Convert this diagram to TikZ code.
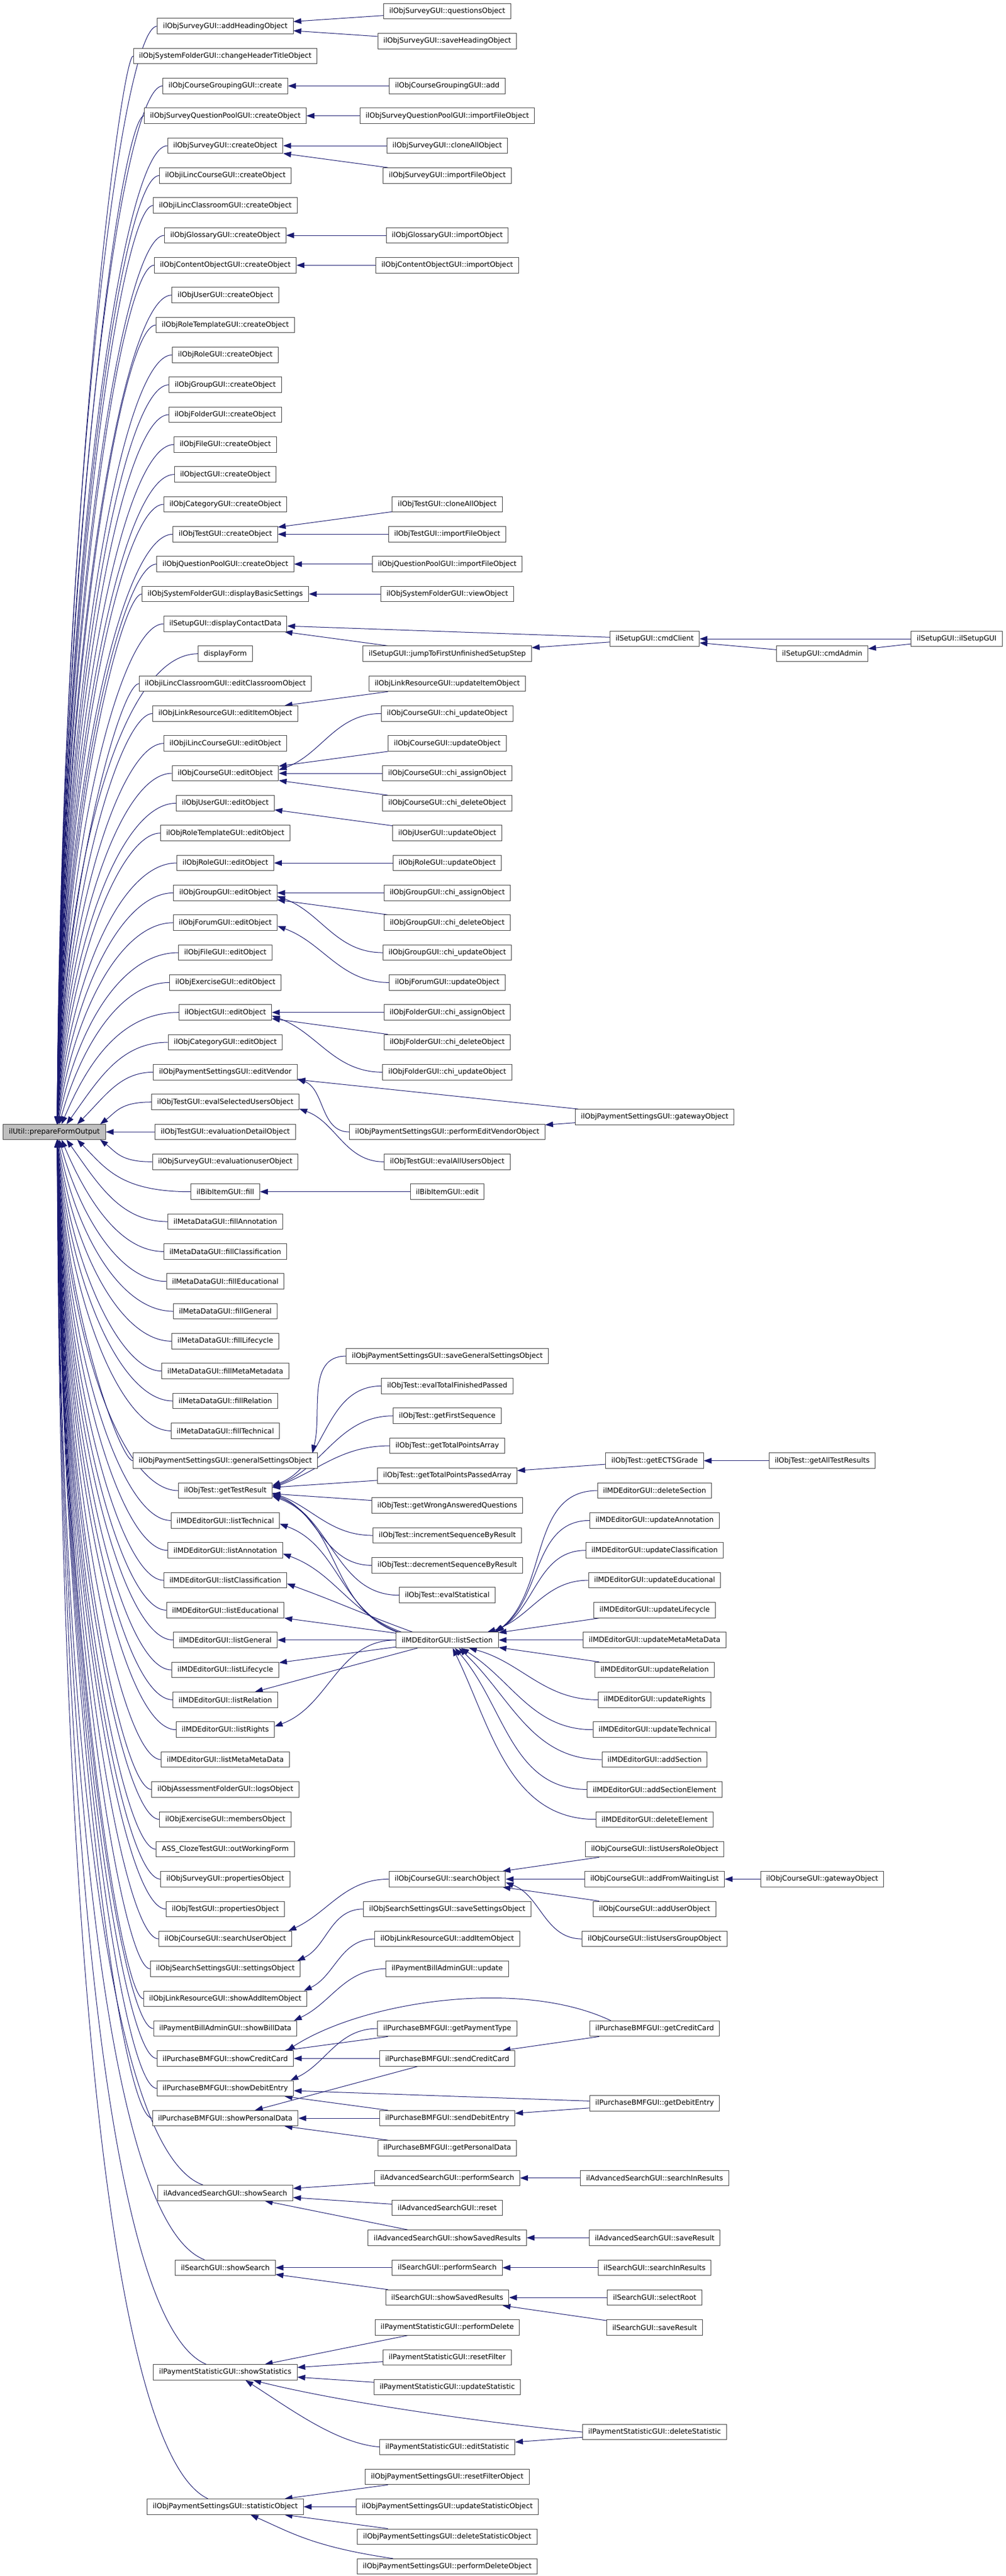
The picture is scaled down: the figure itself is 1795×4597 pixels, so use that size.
\documentclass[tikz,border=0pt]{standalone}
\usepackage{fontspec}
\setmainfont{DejaVu Sans}
\usetikzlibrary{arrows.meta}
\usetikzlibrary{calc}
\pgfdeclarelayer{edges}
\pgfsetlayers{edges,main}

\definecolor{callblue}{RGB}{25,25,112}

\begin{document}
\begin{tikzpicture}[x=1pt, y=1pt,
  fn/.style={draw=black!75, line width=1pt, fill=white, minimum height=27.5pt,
             inner xsep=10pt, inner ysep=0pt, font=\fontsize{12.68}{15}\selectfont},
  call/.style={draw=callblue, line width=1pt, -{Triangle[length=14pt,width=10pt]}}]

 \useasboundingbox (0,0) rectangle (1795,-4597);

 %level 1
 \node[fn, fill=black!25] (ilutil) at (97,-2020) {ilUtil::prepareFormOutput};

 %level 2, one row every 53.33, each one calls ilUtil::prepareFormOutput
 \foreach \g/\name/\txt in {1/survAddHead/ilObjSurveyGUI::addHeadingObject,
   3/sysfChangeHeader/ilObjSystemFolderGUI::changeHeaderTitleObject,
   5/crsgCreate/ilObjCourseGroupingGUI::create,
   7/sqpCreate/ilObjSurveyQuestionPoolGUI::createObject,
   9/survCreate/ilObjSurveyGUI::createObject,
   11/lincCrsCreate/ilObjiLincCourseGUI::createObject,
   13/lincClsCreate/ilObjiLincClassroomGUI::createObject,
   15/gloCreate/ilObjGlossaryGUI::createObject,
   17/lmCreate/ilObjContentObjectGUI::createObject,
   19/usrCreate/ilObjUserGUI::createObject,
   21/rolTCreate/ilObjRoleTemplateGUI::createObject,
   23/rolCreate/ilObjRoleGUI::createObject,
   25/grpCreate/ilObjGroupGUI::createObject,
   27/fldCreate/ilObjFolderGUI::createObject,
   29/fileCreate/ilObjFileGUI::createObject,
   31/objCreate/ilObjectGUI::createObject,
   33/catCreate/ilObjCategoryGUI::createObject,
   35/tstCreate/ilObjTestGUI::createObject,
   37/qplCreate/ilObjQuestionPoolGUI::createObject,
   39/sysfBasic/ilObjSystemFolderGUI::displayBasicSettings,
   41/setupContact/ilSetupGUI::displayContactData,
   43/dispForm/displayForm,
   45/lincClsEdit/ilObjiLincClassroomGUI::editClassroomObject,
   47/webrEditItem/ilObjLinkResourceGUI::editItemObject,
   49/lincCrsEdit/ilObjiLincCourseGUI::editObject,
   51/crsEdit/ilObjCourseGUI::editObject,
   53/usrEdit/ilObjUserGUI::editObject,
   55/rolTEdit/ilObjRoleTemplateGUI::editObject,
   57/rolEdit/ilObjRoleGUI::editObject,
   59/grpEdit/ilObjGroupGUI::editObject,
   61/frmEdit/ilObjForumGUI::editObject,
   63/fileEdit/ilObjFileGUI::editObject,
   65/excEdit/ilObjExerciseGUI::editObject,
   67/objEdit/ilObjectGUI::editObject,
   69/catEdit/ilObjCategoryGUI::editObject,
   71/payEditVendor/ilObjPaymentSettingsGUI::editVendor,
   73/tstEvalSel/ilObjTestGUI::evalSelectedUsersObject,
   75/tstEvalDetail/ilObjTestGUI::evaluationDetailObject,
   77/survEvalUser/ilObjSurveyGUI::evaluationuserObject,
   79/bibFill/ilBibItemGUI::fill,
   81/mdFillAnno/ilMetaDataGUI::fillAnnotation,
   83/mdFillClass/ilMetaDataGUI::fillClassification,
   85/mdFillEdu/ilMetaDataGUI::fillEducational,
   87/mdFillGen/ilMetaDataGUI::fillGeneral,
   89/mdFillLife/ilMetaDataGUI::fillLifecycle,
   91/mdFillMeta/ilMetaDataGUI::fillMetaMetadata,
   93/mdFillRel/ilMetaDataGUI::fillRelation,
   95/mdFillTech/ilMetaDataGUI::fillTechnical,
   97/payGeneral/ilObjPaymentSettingsGUI::generalSettingsObject,
   99/tstResult/ilObjTest::getTestResult,
   101/mdeTech/ilMDEditorGUI::listTechnical,
   103/mdeAnno/ilMDEditorGUI::listAnnotation,
   105/mdeClass/ilMDEditorGUI::listClassification,
   107/mdeEdu/ilMDEditorGUI::listEducational,
   109/mdeGen/ilMDEditorGUI::listGeneral,
   111/mdeLife/ilMDEditorGUI::listLifecycle,
   113/mdeRel/ilMDEditorGUI::listRelation,
   115/mdeRights/ilMDEditorGUI::listRights,
   117/mdeMeta/ilMDEditorGUI::listMetaMetaData,
   119/assfLogs/ilObjAssessmentFolderGUI::logsObject,
   121/excMembers/ilObjExerciseGUI::membersObject,
   123/clozeOut/ASS\_ClozeTestGUI::outWorkingForm,
   125/survProps/ilObjSurveyGUI::propertiesObject,
   127/tstProps/ilObjTestGUI::propertiesObject,
   129/crsSearchUser/ilObjCourseGUI::searchUserObject,
   131/seasSettings/ilObjSearchSettingsGUI::settingsObject,
   133/webrShowAdd/ilObjLinkResourceGUI::showAddItemObject,
   135/billShow/ilPaymentBillAdminGUI::showBillData,
   137/bmfShowCC/ilPurchaseBMFGUI::showCreditCard,
   139/bmfShowDebit/ilPurchaseBMFGUI::showDebitEntry,
   141/bmfShowPers/ilPurchaseBMFGUI::showPersonalData,
   146/advShowSearch/ilAdvancedSearchGUI::showSearch,
   151/srchShowSearch/ilSearchGUI::showSearch,
   158/statShow/ilPaymentStatisticGUI::showStatistics,
   167/payStatistic/ilObjPaymentSettingsGUI::statisticObject} {
   \node[fn] (\name) at (402,{-20-26.667*\g}) {\txt};
   \begin{pgfonlayer}{edges}
   \ifnum\g=75
     \draw[call] (\name) -- (ilutil);
   \else
     \pgfmathsetmacro{\yn}{-20-26.667*\g}
     \pgfmathsetmacro{\dist}{abs(\yn+2020)}
     \pgfmathsetmacro{\side}{(\g<75) ? 1 : -1}
     \pgfmathsetmacro{\xl}{102+77*exp(max(-12,-(\dist-53)/70))}
     \pgfmathsetmacro{\yl}{-2020+13.75*\side}
     \pgfmathsetmacro{\xr}{\xl+(230-\xl)*min(1,150/\dist)}
     \pgfmathsetmacro{\cx}{\xl+0.55*(\xr-\xl)}
     \pgfmathsetmacro{\cy}{\yl+0.55*(\yn-\yl)}
     \pgfmathsetmacro{\ax}{(\g>141) ? 190 : 215}
     \pgfmathsetmacro{\ay}{(\g>141) ? \yn+0.04*\dist : \yn}
     \draw[call] (\name) .. controls (\ax,\ay) and (\cx,\cy) .. (\xl,\yl);
   \fi
   \end{pgfonlayer}
 }

 %level 3
 \foreach \g/\name/\txt in {0/survQuestions/ilObjSurveyGUI::questionsObject,
   2/survSaveHead/ilObjSurveyGUI::saveHeadingObject,
   5/crsgAdd/ilObjCourseGroupingGUI::add,
   7/sqpImport/ilObjSurveyQuestionPoolGUI::importFileObject,
   9/survClone/ilObjSurveyGUI::cloneAllObject,
   11/survImport/ilObjSurveyGUI::importFileObject,
   15/gloImport/ilObjGlossaryGUI::importObject,
   17/lmImport/ilObjContentObjectGUI::importObject,
   33/tstClone/ilObjTestGUI::cloneAllObject,
   35/tstImport/ilObjTestGUI::importFileObject,
   37/qplImport/ilObjQuestionPoolGUI::importFileObject,
   39/sysfView/ilObjSystemFolderGUI::viewObject,
   43/setupJump/ilSetupGUI::jumpToFirstUnfinishedSetupStep,
   45/webrUpdItem/ilObjLinkResourceGUI::updateItemObject,
   47/crsChiUpd/ilObjCourseGUI::chi\_updateObject,
   49/crsUpd/ilObjCourseGUI::updateObject,
   51/crsChiAssign/ilObjCourseGUI::chi\_assignObject,
   53/crsChiDel/ilObjCourseGUI::chi\_deleteObject,
   55/usrUpd/ilObjUserGUI::updateObject,
   57/rolUpd/ilObjRoleGUI::updateObject,
   59/grpChiAssign/ilObjGroupGUI::chi\_assignObject,
   61/grpChiDel/ilObjGroupGUI::chi\_deleteObject,
   63/grpChiUpd/ilObjGroupGUI::chi\_updateObject,
   65/frmUpd/ilObjForumGUI::updateObject,
   67/fldChiAssign/ilObjFolderGUI::chi\_assignObject,
   69/fldChiDel/ilObjFolderGUI::chi\_deleteObject,
   71/fldChiUpd/ilObjFolderGUI::chi\_updateObject,
   75/payPerformEdit/ilObjPaymentSettingsGUI::performEditVendorObject,
   77/tstEvalAll/ilObjTestGUI::evalAllUsersObject,
   79/bibEdit/ilBibItemGUI::edit,
   90/paySaveGeneral/ilObjPaymentSettingsGUI::saveGeneralSettingsObject,
   92/tstEvalTotal/ilObjTest::evalTotalFinishedPassed,
   94/tstFirstSeq/ilObjTest::getFirstSequence,
   96/tstPoints/ilObjTest::getTotalPointsArray,
   98/tstPointsPassed/ilObjTest::getTotalPointsPassedArray,
   100/tstWrong/ilObjTest::getWrongAnsweredQuestions,
   102/tstIncSeq/ilObjTest::incrementSequenceByResult,
   104/tstDecSeq/ilObjTest::decrementSequenceByResult,
   106/tstEvalStat/ilObjTest::evalStatistical,
   109/mdeSection/ilMDEditorGUI::listSection,
   125/crsSearch/ilObjCourseGUI::searchObject,
   127/seasSave/ilObjSearchSettingsGUI::saveSettingsObject,
   129/webrAddItem/ilObjLinkResourceGUI::addItemObject,
   131/billUpd/ilPaymentBillAdminGUI::update,
   135/bmfPayType/ilPurchaseBMFGUI::getPaymentType,
   137/bmfSendCC/ilPurchaseBMFGUI::sendCreditCard,
   141/bmfSendDebit/ilPurchaseBMFGUI::sendDebitEntry,
   143/bmfGetPers/ilPurchaseBMFGUI::getPersonalData,
   145/advPerform/ilAdvancedSearchGUI::performSearch,
   147/advReset/ilAdvancedSearchGUI::reset,
   149/advSaved/ilAdvancedSearchGUI::showSavedResults,
   151/srchPerform/ilSearchGUI::performSearch,
   153/srchSaved/ilSearchGUI::showSavedResults,
   155/statPerfDel/ilPaymentStatisticGUI::performDelete,
   157/statReset/ilPaymentStatisticGUI::resetFilter,
   159/statUpd/ilPaymentStatisticGUI::updateStatistic,
   163/statEdit/ilPaymentStatisticGUI::editStatistic,
   165/payResetFilter/ilObjPaymentSettingsGUI::resetFilterObject,
   167/payUpdStat/ilObjPaymentSettingsGUI::updateStatisticObject,
   169/payDelStat/ilObjPaymentSettingsGUI::deleteStatisticObject,
   171/payPerfDel/ilObjPaymentSettingsGUI::performDeleteObject} {
   \node[fn] (\name) at (798,{-20-26.667*\g}) {\txt};
 }

 %level 4
 \foreach \g/\name/\txt in {42/setupCmdClient/ilSetupGUI::cmdClient,
   74/payGateway/ilObjPaymentSettingsGUI::gatewayObject,
   97/tstECTS/ilObjTest::getECTSGrade,
   99/mdeDelSec/ilMDEditorGUI::deleteSection,
   101/mdeUpdAnno/ilMDEditorGUI::updateAnnotation,
   103/mdeUpdClass/ilMDEditorGUI::updateClassification,
   105/mdeUpdEdu/ilMDEditorGUI::updateEducational,
   107/mdeUpdLife/ilMDEditorGUI::updateLifecycle,
   109/mdeUpdMeta/ilMDEditorGUI::updateMetaMetaData,
   111/mdeUpdRel/ilMDEditorGUI::updateRelation,
   113/mdeUpdRights/ilMDEditorGUI::updateRights,
   115/mdeUpdTech/ilMDEditorGUI::updateTechnical,
   117/mdeAddSec/ilMDEditorGUI::addSection,
   119/mdeAddSecEl/ilMDEditorGUI::addSectionElement,
   121/mdeDelEl/ilMDEditorGUI::deleteElement,
   123/crsListRole/ilObjCourseGUI::listUsersRoleObject,
   125/crsAddWait/ilObjCourseGUI::addFromWaitingList,
   127/crsAddUser/ilObjCourseGUI::addUserObject,
   129/crsListGroup/ilObjCourseGUI::listUsersGroupObject,
   135/bmfGetCC/ilPurchaseBMFGUI::getCreditCard,
   140/bmfGetDebit/ilPurchaseBMFGUI::getDebitEntry,
   145/advSearchIn/ilAdvancedSearchGUI::searchInResults,
   149/advSaveRes/ilAdvancedSearchGUI::saveResult,
   151/srchSearchIn/ilSearchGUI::searchInResults,
   153/srchSelectRoot/ilSearchGUI::selectRoot,
   155/srchSaveRes/ilSearchGUI::saveResult,
   162/statDel/ilPaymentStatisticGUI::deleteStatistic} {
   \node[fn] (\name) at (1168,{-20-26.667*\g}) {\txt};
 }

 %level 5 and 6
 \foreach \g/\name/\txt in {43/setupCmdAdmin/ilSetupGUI::cmdAdmin,
   97/tstAllResults/ilObjTest::getAllTestResults,
   125/crsGateway/ilObjCourseGUI::gatewayObject} {
   \node[fn] (\name) at (1467,{-20-26.667*\g}) {\txt};
 }
 \node[fn] (setupMain) at (1707,{-20-26.667*42}) {ilSetupGUI::ilSetupGUI};

 \begin{pgfonlayer}{edges}
 %straight calls
 \foreach \src/\dst in {survQuestions/survAddHead, survSaveHead/survAddHead,
   crsgAdd/crsgCreate, sqpImport/sqpCreate, survClone/survCreate, survImport/survCreate,
   gloImport/gloCreate, lmImport/lmCreate, tstClone/tstCreate, tstImport/tstCreate,
   qplImport/qplCreate, sysfView/sysfBasic, setupJump/setupContact,
   setupCmdClient/setupContact, setupCmdClient/setupJump, setupCmdAdmin/setupCmdClient,
   setupMain/setupCmdClient, setupMain/setupCmdAdmin, webrUpdItem/webrEditItem,
   crsUpd/crsEdit, crsChiAssign/crsEdit, crsChiDel/crsEdit, usrUpd/usrEdit, rolUpd/rolEdit,
   grpChiAssign/grpEdit, grpChiDel/grpEdit, fldChiAssign/objEdit, fldChiDel/objEdit,
   payGateway/payEditVendor, payGateway/payPerformEdit, bibEdit/bibFill,
   tstPointsPassed/tstResult, tstECTS/tstPointsPassed, tstAllResults/tstECTS, tstWrong/tstResult,
   mdeSection/mdeEdu, mdeSection/mdeGen, mdeSection/mdeLife, mdeSection/mdeRel,
   mdeUpdLife/mdeSection, mdeUpdMeta/mdeSection, mdeUpdRel/mdeSection,
   crsListRole/crsSearch, crsAddWait/crsSearch, crsGateway/crsAddWait, crsAddUser/crsSearch,
   bmfPayType/bmfShowCC, bmfGetCC/bmfSendCC, bmfSendCC/bmfShowCC, bmfSendCC/bmfShowPers,
   bmfGetDebit/bmfShowDebit, bmfGetDebit/bmfSendDebit, bmfSendDebit/bmfShowDebit,
   bmfSendDebit/bmfShowPers, bmfGetPers/bmfShowPers,
   advPerform/advShowSearch, advReset/advShowSearch, advSaved/advShowSearch,
   advSearchIn/advPerform, advSaveRes/advSaved,
   srchPerform/srchShowSearch, srchSaved/srchShowSearch, srchSearchIn/srchPerform,
   srchSelectRoot/srchSaved, srchSaveRes/srchSaved,
   statPerfDel/statShow, statReset/statShow, statUpd/statShow, statDel/statEdit,
   payResetFilter/payStatistic, payUpdStat/payStatistic, payDelStat/payStatistic} {
   \draw[call] (\src) -- (\dst);
 }

 %bent calls into the right side
 \foreach \src/\dst/\ang/\dy in {crsChiUpd/crsEdit/20/6, tstEvalTotal/tstResult/20/9,
   tstFirstSeq/tstResult/20/7, tstPoints/tstResult/20/5, mdeSection/mdeRights/20/6,
   grpChiUpd/grpEdit/-20/-6, frmUpd/frmEdit/-20/-6, fldChiUpd/objEdit/-20/-6,
   payPerformEdit/payEditVendor/-20/-12, tstEvalAll/tstEvalSel/-20/-12,
   tstIncSeq/tstResult/-20/-4, tstDecSeq/tstResult/-20/-6, tstEvalStat/tstResult/-20/-8,
   crsListGroup/crsSearch/-20/-6} {
   \draw[call] (\src.west) to[out=180,in=\ang] ($(\dst.east)+(0,\dy)$);
 }

 %listSection calls, leaving from its upper left corner
 \foreach \dst/\dx/\dy in {tstResult/2/-10, mdeTech/5/-6, mdeAnno/10/-6, mdeClass/30/-6} {
   \draw[call] ($(mdeSection.north west)+(\dx,0)$) to[out=160,in=-20] ($(\dst.east)+(0,\dy)$);
 }

 %bent calls into the upper right corner
 \foreach \src/\dst/\ang/\dx in {paySaveGeneral/payGeneral/75/-10,
   crsSearch/crsSearchUser/25/-6, seasSave/seasSettings/25/-6, webrAddItem/webrShowAdd/25/-6,
   billUpd/billShow/25/-6, bmfPayType/bmfShowDebit/25/-6} {
   \draw[call] (\src.west) to[out=180,in=\ang] ($(\dst.north east)+(\dx,0)$);
 }

 %callers of listSection
 \foreach \src/\dx/\ang in {mdeDelSec/-4/40, mdeUpdAnno/-6/35, mdeUpdClass/-8/30, mdeUpdEdu/-20/17} {
   \draw[call] (\src.west) to[out=180,in=\ang] ($(mdeSection.north east)+(\dx,0)$);
 }
 \foreach \src/\dx/\ang in {mdeUpdRights/-53/-15, mdeUpdTech/-67/-32, mdeAddSec/-71/-43,
   mdeAddSecEl/-78/-49, mdeDelEl/-82/-64} {
   \draw[call] (\src.west) to[out=180,in=\ang] ($(mdeSection.south east)+(\dx,0)$);
 }

 %long curves
 \draw[call] ($(bmfGetCC.north west)+(38,0)$) .. controls (930,-3530) and (650,-3570) .. ($(bmfShowCC.north east)+(-12,0)$);
 \draw[call] (statDel.west) .. controls (850,-4322) and (600,-4285) .. ($(statShow.south)+(50,0)$);
 \draw[call] (statEdit.west) .. controls (600,-4360) and (520,-4300) .. ($(statShow.south)+(36,0)$);
 \draw[call] (payPerfDel) .. controls (560,-4545) and (520,-4520) .. ($(payStatistic.south)+(45,0)$);
 \end{pgfonlayer}

\end{tikzpicture}
\end{document}
